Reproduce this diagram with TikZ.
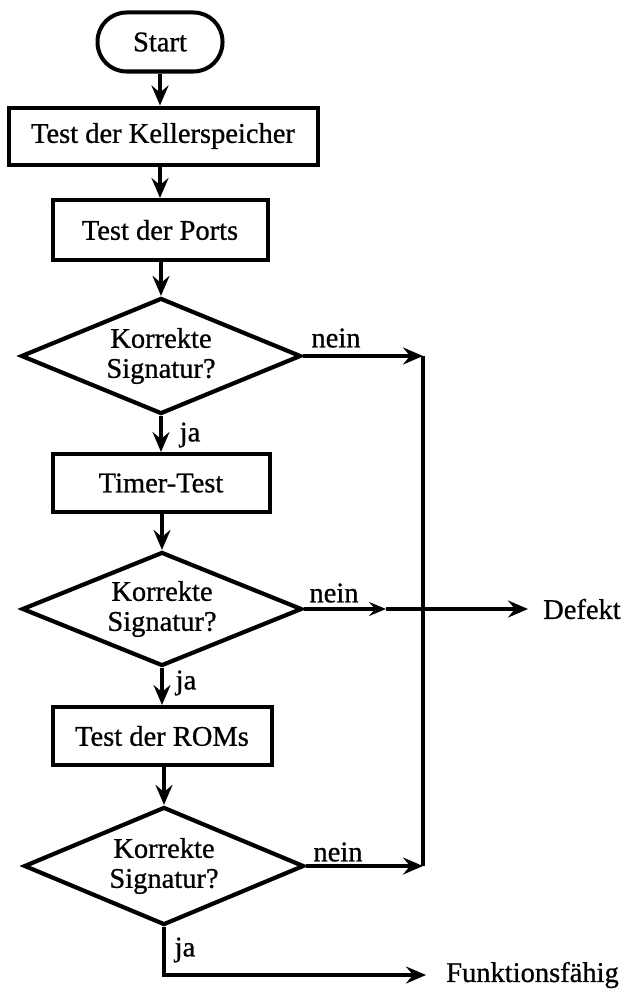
\documentclass[tikz,border=0pt]{standalone}
\usepackage{fontspec}
\setmainfont[FakeBold=0.8]{Liberation Serif}
\usetikzlibrary{shapes.geometric,arrows.meta}
\begin{document}
\begin{tikzpicture}[x=1pt,y=-1pt,
  every node/.style={font=\fontsize{28.5}{30}\selectfont},
  box/.style={draw, line width=4pt, rectangle, minimum width=217pt, minimum height=58pt, inner sep=0pt},
  pill/.style={draw, line width=4pt, rectangle, rounded corners=29pt, minimum width=125pt, minimum height=59pt, inner sep=0pt},
  decision/.style={draw, line width=4.2pt, diamond, aspect=2.4, minimum width=280pt, minimum height=116pt, inner sep=0pt, align=center},
  flow/.style={line width=3.4pt, -{Stealth[length=20pt,width=17pt,inset=7pt]}},
  midflow/.style={line width=3.4pt, -{Stealth[length=17pt,width=14pt,inset=6pt]}},
  plain/.style={line width=3.4pt, line cap=square},
  lbl/.style={inner sep=0pt},
  endlbl/.style={inner ysep=0pt, anchor=west},
]
\useasboundingbox (0,0) rectangle (628,990);

% main column
\node[pill] (start) at (160,42) {Start};
\node[box, minimum width=309pt, minimum height=57pt] (keller) at (163,136) {Test der Kellerspeicher};
\node[box, minimum width=215pt, minimum height=60pt] (ports) at (160,230) {Test der Ports};
\node[decision] (d1) at (161,356) {Korrekte\\Signatur?};
\node[box] (timer) at (161,483) {Timer-Test};
\node[decision, minimum height=114pt] (d2) at (162,609) {Korrekte\\Signatur?};
\node[box, minimum width=219pt] (roms) at (162,736) {Test der ROMs};
\node[decision, minimum height=118pt] (d3) at (164,866) {Korrekte\\Signatur?};

% outcomes
\node[endlbl, inner xsep=15pt] (defekt) at (528,609) {Defekt};
\node[endlbl, inner xsep=20pt] (fkt) at (426,975) {Funktionsfähig};

% collecting line on the right
\coordinate (m1) at (423,356);
\coordinate (m3) at (423,866);
\coordinate (a2) at (386,609);

% branch labels
\node[lbl] (n1) at (336,338) {nein};
\node[lbl] (j1) at (190,435) {ja};
\node[lbl] (n2) at (334,593) {nein};
\node[lbl] (j2) at (186,683) {ja};
\node[lbl] (n3) at (338,852) {nein};
\node[lbl] (j3) at (185,950) {ja};

% connectors
\draw[flow] (start.south |- start.south) -- (start.south |- keller.north);
\draw[flow] (start.south |- keller.south) -- (start.south |- ports.north);
\draw[flow] (d1.north |- ports.south) -- (d1.north);
\draw[flow] (d1.south) -- (d1.south |- timer.north);
\draw[flow] (d2.north |- timer.south) -- (d2.north);
\draw[flow] (d2.south) -- (d2.south |- roms.north);
\draw[flow] (d3.north |- roms.south) -- (d3.north);

\draw[plain] (m1) -- (m3);
\draw[flow] (d1.east) -- (m1);
\draw[flow] (d3.east) -- (m3);
\draw[midflow] (d2.east) -- (a2);
\draw[flow] (a2) -- (defekt.west);
\draw[flow] (d3.south) |- (fkt.west);
\end{tikzpicture}
\end{document}
